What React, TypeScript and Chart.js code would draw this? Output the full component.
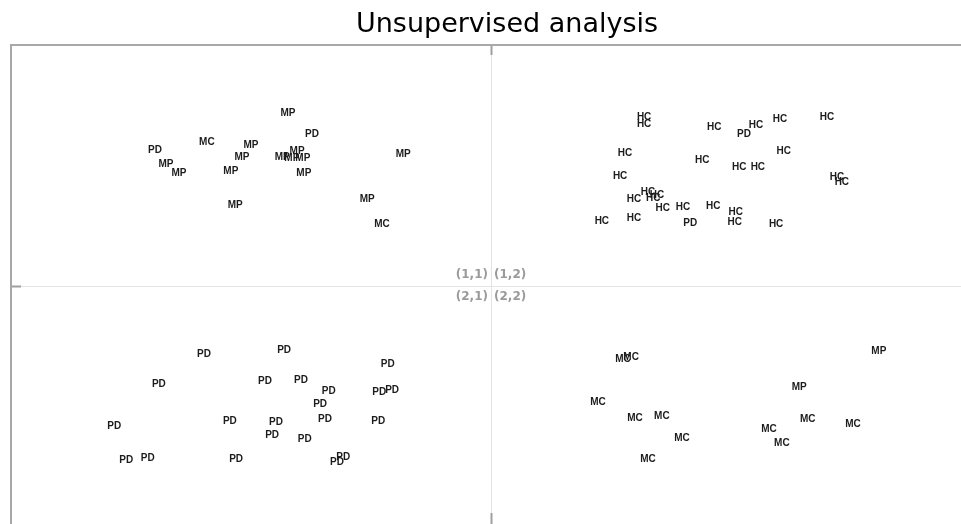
import React, { useEffect, useRef } from "react";
import { Chart, registerables } from "chart.js";

Chart.register(...registerables);

const chartTitle = "Unsupervised analysis";
const quadrantLabels = ["(1,1)", "(1,2)", "(2,1)", "(2,2)"];

// Quadrant (1,1)
const q11Labels = ["MP", "PD", "MC", "PD", "MP", "MP", "MP", "MP", "MP", "MP", "MP", "MP", "MP", "MP", "MP", "MP", "MC", "MP"];
const q11X = [-0.423, -0.373, -0.592, -0.7, -0.5, -0.519, -0.677, -0.65, -0.542, -0.435, -0.415, -0.392, -0.404, -0.39, -0.183, -0.258, -0.227, -0.533];
const q11Y = [0.718, 0.631, 0.598, 0.564, 0.585, 0.535, 0.506, 0.469, 0.477, 0.535, 0.531, 0.531, 0.56, 0.469, 0.548, 0.361, 0.257, 0.336];

// Quadrant (1,2)
const q12Labels = ["HC", "HC", "HC", "PD", "HC", "HC", "HC", "HC", "HC", "HC", "HC", "HC", "HC", "HC", "HC", "HC", "HC", "HC", "HC", "HC", "HC", "HC", "HC", "HC", "HC", "PD", "HC", "HC"];
const q12X = [0.319, 0.319, 0.465, 0.527, 0.552, 0.602, 0.7, 0.279, 0.61, 0.44, 0.517, 0.556, 0.269, 0.721, 0.731, 0.327, 0.346, 0.298, 0.338, 0.358, 0.4, 0.463, 0.51, 0.231, 0.298, 0.415, 0.508, 0.594];
const q12Y = [0.701, 0.672, 0.66, 0.631, 0.668, 0.693, 0.701, 0.552, 0.56, 0.523, 0.494, 0.494, 0.456, 0.452, 0.432, 0.39, 0.378, 0.361, 0.365, 0.324, 0.328, 0.332, 0.307, 0.27, 0.282, 0.261, 0.266, 0.257];

// Quadrant (2,1)
const q21Labels = ["PD", "PD", "PD", "PD", "PD", "PD", "PD", "PD", "PD", "PD", "PD", "PD", "PD", "PD", "PD", "PD", "PD", "PD", "PD", "PD", "PD", "PD"];
const q21X = [-0.598, -0.431, -0.215, -0.692, -0.471, -0.396, -0.338, -0.233, -0.206, -0.356, -0.544, -0.448, -0.346, -0.235, -0.785, -0.456, -0.388, -0.76, -0.715, -0.531, -0.308, -0.321];
const q21Y = [-0.282, -0.266, -0.324, -0.407, -0.394, -0.39, -0.436, -0.44, -0.432, -0.49, -0.56, -0.564, -0.552, -0.56, -0.581, -0.618, -0.635, -0.722, -0.714, -0.718, -0.71, -0.73];

// Quadrant (2,2)
const q22Labels = ["MC", "MC", "MP", "MP", "MC", "MC", "MC", "MC", "MC", "MC", "MC", "MC", "MC"];
const q22X = [0.275, 0.292, 0.808, 0.642, 0.223, 0.3, 0.356, 0.66, 0.754, 0.579, 0.398, 0.606, 0.327];
const q22Y = [-0.303, -0.295, -0.27, -0.419, -0.481, -0.548, -0.539, -0.552, -0.573, -0.593, -0.631, -0.651, -0.718];

const allLabels = [...q11Labels, ...q12Labels, ...q21Labels, ...q22Labels];
const allX = [...q11X, ...q12X, ...q21X, ...q22X];
const allY = [...q11Y, ...q12Y, ...q21Y, ...q22Y];

const textLabelPlugin = {
  id: "textLabels",
  beforeDatasetsDraw(chart: any) {
    const { ctx, chartArea } = chart;
    const xs = chart.scales.x;
    const ys = chart.scales.y;
    const x0 = xs.getPixelForValue(0);
    const y0 = ys.getPixelForValue(0);
    const { left, right, top, bottom } = chartArea;
    ctx.save();
    // centre cross lines
    ctx.strokeStyle = "#e3e3e3";
    ctx.lineWidth = 1;
    ctx.beginPath();
    ctx.moveTo(x0 + 0.5, top);
    ctx.lineTo(x0 + 0.5, bottom);
    ctx.moveTo(left, y0 + 0.5);
    ctx.lineTo(right, y0 + 0.5);
    ctx.stroke();
    // edge ticks
    ctx.strokeStyle = "#a0a0a0";
    ctx.lineWidth = 2;
    ctx.beginPath();
    ctx.moveTo(x0 + 0.5, top);
    ctx.lineTo(x0 + 0.5, top + 10);
    ctx.moveTo(x0 + 0.5, bottom - 11);
    ctx.lineTo(x0 + 0.5, bottom);
    ctx.moveTo(left, y0 + 0.5);
    ctx.lineTo(left + 10, y0 + 0.5);
    ctx.stroke();
    // frame
    ctx.strokeStyle = "#a8a8a8";
    ctx.lineWidth = 2;
    ctx.beginPath();
    ctx.moveTo(left - 1, top);
    ctx.lineTo(right, top);
    ctx.moveTo(left, top);
    ctx.lineTo(left, bottom);
    ctx.stroke();
    // quadrant labels
    ctx.fillStyle = "#9a9a9a";
    ctx.font = "bold 12px 'DejaVu Sans'";
    ctx.textBaseline = "middle";
    ctx.textAlign = "right";
    ctx.fillText(quadrantLabels[0], x0 - 3, y0 - 11);
    ctx.fillText(quadrantLabels[2], x0 - 3, y0 + 11);
    ctx.textAlign = "left";
    ctx.fillText(quadrantLabels[1], x0 + 3, y0 - 11);
    ctx.fillText(quadrantLabels[3], x0 + 3, y0 + 11);
    ctx.restore();
  },
  afterDatasetsDraw(chart: any) {
    const { ctx } = chart;
    const meta = chart.getDatasetMeta(0);
    ctx.save();
    ctx.fillStyle = "#1c1c1c";
    ctx.font = "bold 10px 'Liberation Sans', Arial, sans-serif";
    ctx.textAlign = "center";
    ctx.textBaseline = "middle";
    meta.data.forEach((el: any, i: number) => {
      ctx.fillText(allLabels[i], el.x, el.y);
    });
    ctx.restore();
  },
  afterDraw(chart: any) {
    const { ctx } = chart;
    ctx.save();
    ctx.fillStyle = "#000";
    ctx.font = "27px 'DejaVu Sans'";
    ctx.textAlign = "center";
    ctx.textBaseline = "alphabetic";
    ctx.fillText(chartTitle, 507, 32);
    ctx.restore();
  },
};

export default function App() {
  const ref = useRef<HTMLCanvasElement | null>(null);
  useEffect(() => {
    if (!ref.current) return;
    const chart = new Chart(ref.current, {
      type: "scatter",
      data: {
        datasets: [
          {
            data: allX.map((x, i) => ({ x, y: allY[i] })),
            pointRadius: 0,
            pointHoverRadius: 0,
          },
        ],
      },
      options: {
        animation: false,
        responsive: false,
        layout: { padding: { left: 11, top: 45, right: 0, bottom: 0 } },
        plugins: { legend: { display: false }, tooltip: { enabled: false }, title: { display: false } },
        scales: {
          x: { type: "linear", display: false, min: -1, max: 0.9792 },
          y: { type: "linear", display: false, min: -0.9876, max: 1 },
        },
      },
      plugins: [textLabelPlugin],
    });
    return () => chart.destroy();
  }, []);
  return (
    <div style={{ position: "fixed", left: 0, top: 0, width: 961, height: 524, background: "#fff" }}>
      <canvas ref={ref} width={961} height={524} style={{ display: "block" }} />
    </div>
  );
}
